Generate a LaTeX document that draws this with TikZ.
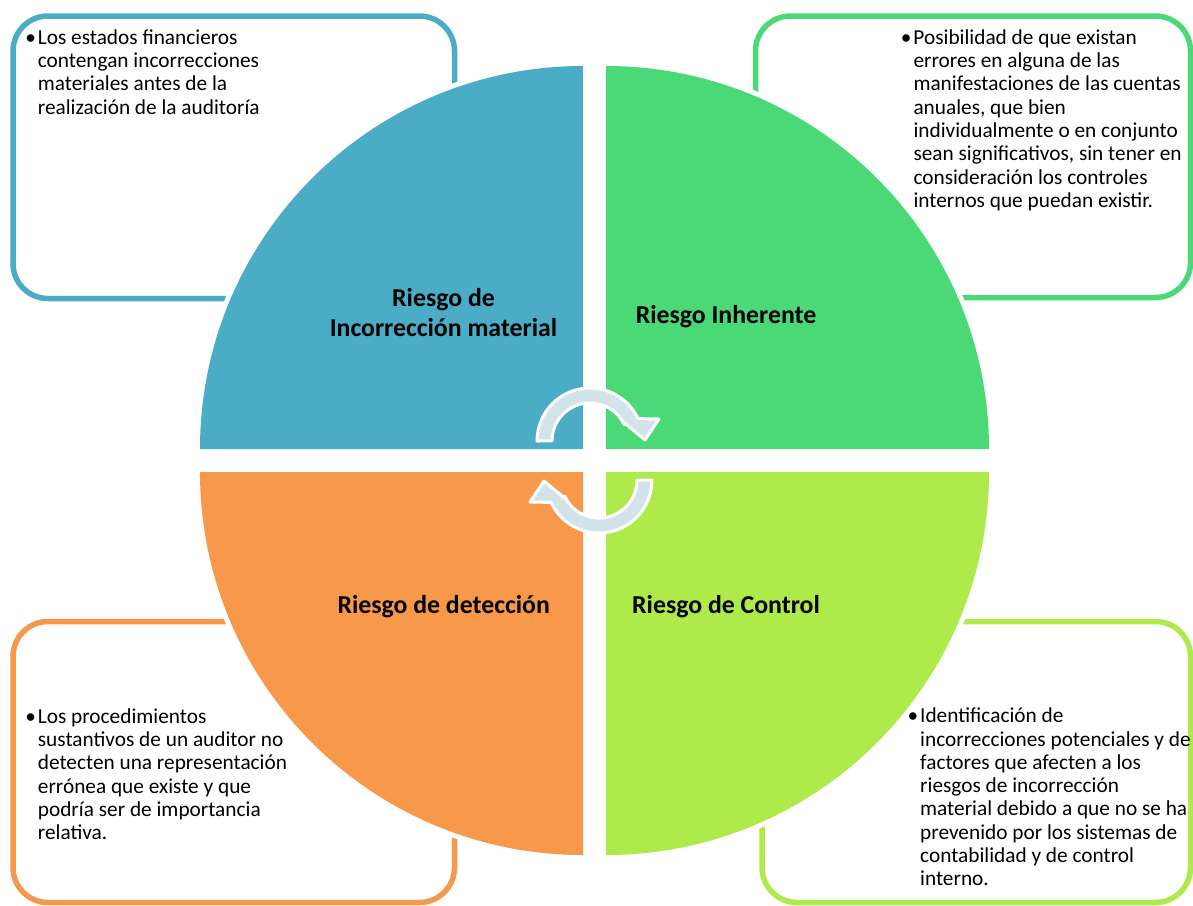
\documentclass[tikz,border=0pt]{standalone}
\usepackage{fontspec}
\setmainfont{Carlito}
\definecolor{riskblue}{RGB}{75,172,198}
\definecolor{riskgreen}{RGB}{74,217,118}
\definecolor{riskorange}{RGB}{247,152,74}
\definecolor{risklime}{RGB}{174,234,74}
\definecolor{cyclefill}{RGB}{210,227,234}

\begin{document}
\begin{tikzpicture}[x=1pt,y=-1pt,
    quad/.style={fill=#1,preaction={draw=white,line width=10pt}},
    riskframe/.style={draw=#1,line width=5.5pt,rounded corners=35pt},
    cyclearrow/.style={fill=cyclefill,draw=white,line width=3pt,line join=round},
    quadtitle/.style={font=\bfseries\fontsize{25.8}{30}\selectfont,align=center,inner sep=0pt,anchor=base},
    riskdesc/.style={font=\fontsize{21.3}{23.3}\selectfont,align=left,inner sep=0pt,anchor=base west}]
  \useasboundingbox (0,0) rectangle (1193,905);
  % cajas de texto
  \draw[riskframe=riskblue] (13,16) rectangle (454.5,298.5);
  \draw[riskframe=riskgreen] (755.5,16) rectangle (1190.5,297.5);
  \draw[riskframe=riskorange] (13,621.5) rectangle (454.5,902.5);
  \draw[riskframe=risklime] (762,621.5) rectangle (1190.5,902.5);
  % cuadrantes
  \path[quad=riskblue] (583,449) -- (200,449) arc[start angle=180,end angle=270,radius=383] -- cycle;
  \path[quad=riskgreen] (606,449) -- (606,66) arc[start angle=270,end angle=360,radius=383] -- cycle;
  \path[quad=risklime] (606,472) -- (989,472) arc[start angle=0,end angle=90,radius=383] -- cycle;
  \path[quad=riskorange] (583,472) -- (583,855) arc[start angle=90,end angle=180,radius=383] -- cycle;
  % flechas del ciclo
  \draw[cyclearrow] (537,441) arc[start angle=180,end angle=335,radius=53]
    -- (659,419) -- (645,440) -- (622,421) -- (624.4,424.9)
    arc[start angle=335,end angle=180,radius=38] -- cycle;
  \begin{scope}[rotate around={180:(594.5,460.5)}]
    \draw[cyclearrow] (537,441) arc[start angle=180,end angle=335,radius=53]
      -- (659,419) -- (645,440) -- (622,421) -- (624.4,424.9)
      arc[start angle=335,end angle=180,radius=38] -- cycle;
  \end{scope}
  % titulos (base = ultima linea)
  \node[quadtitle] (tituloTL) at (443.5,336.7) {Riesgo de\\Incorrección material};
  \node[quadtitle] (tituloTR) at (726,323.3) {Riesgo Inherente};
  \node[quadtitle] (tituloBL) at (443.7,613.3) {Riesgo de detección};
  \node[quadtitle] (tituloBR) at (726,613.3) {Riesgo de Control};
  % descripciones
  \node[riskdesc] (descTL) at (37.7,114.2) {\llap{•\hspace{2pt}}Los estados financieros\\
    contengan incorrecciones\\materiales antes de la\\realización de la auditoría};
  \node[riskdesc] (descTR) at (913.3,207.4) {\llap{•\hspace{2pt}}Posibilidad de que existan\\
    errores en alguna de las\\manifestaciones de las cuentas\\anuales, que bien\\
    individualmente o en conjunto\\sean significativos, sin tener en\\
    consideración los controles\\internos que puedan existir.};
  \node[riskdesc] (descBL) at (37.7,839.8) {\llap{•\hspace{2pt}}Los procedimientos\\
    sustantivos de un auditor no\\detecten una representación\\errónea que existe y que\\
    podría ser de importancia\\relativa.};
  \node[riskdesc] (descBR) at (920,885.8) {\llap{•\hspace{2pt}}Identificación de\\
    incorrecciones potenciales y de\\factores que afecten a los\\riesgos de incorrección\\
    material debido a que no se ha\\prevenido por los sistemas de\\
    contabilidad y de control\\interno.};
\end{tikzpicture}
\end{document}
